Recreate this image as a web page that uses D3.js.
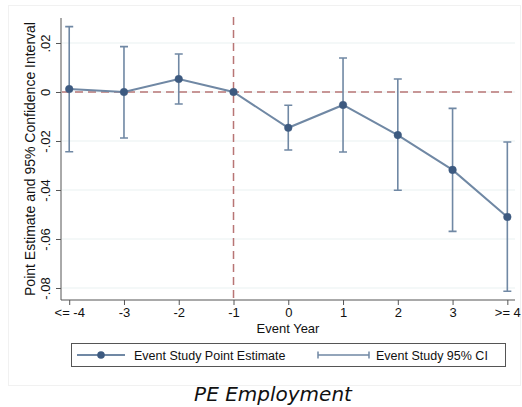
<!DOCTYPE html>
<html>
<head>
<meta charset="utf-8">
<script src="https://cdn.jsdelivr.net/npm/d3@7"></script>
<style>
  html, body { margin: 0; padding: 0; background: #fff; }
  svg { display: block; }
  text { font-family: "Liberation Sans", Arial, sans-serif; fill: #111; }
</style>
</head>
<body>
<svg id="chart" width="522" height="407"></svg>
<script>
// Event-study estimates relative to the event year (-1 is the omitted base year)
const eventYears = [-4, -3, -2, -1, 0, 1, 2, 3, 4];
const yearLabels = ["<= -4", "-3", "-2", "-1", "0", "1", "2", "3", ">= 4"];
const pointEstimates = [0.0012, 0.0, 0.0053, 0.0, -0.0146, -0.0053, -0.0176, -0.0318, -0.0510];
const ciLower = [-0.0244, -0.0188, -0.0049, null, -0.0237, -0.0245, -0.0401, -0.0569, -0.0813];
const ciUpper = [0.0267, 0.0185, 0.0155, null, -0.0054, 0.0139, 0.0053, -0.0067, -0.0204];
const yTicks = [0.02, 0, -0.02, -0.04, -0.06, -0.08];
const yTickLabels = [".02", "0", "-.02", "-.04", "-.06", "-.08"];

const svg = d3.select("#chart");
const lineColor = "#7088a4";
const markColor = "#3d5a80";
const refColor = "#b87575";

// faint outer frame of the graph region
svg.append("rect").attr("x", 8.5).attr("y", 5.5).attr("width", 512).attr("height", 380)
  .attr("fill", "none").attr("stroke", "#f1f1f1");

const x = d3.scaleLinear().domain([-4.15, 4.14]).range([61, 515]);
const y = d3.scaleLinear().domain([-0.0849, 0.0302]).range([300, 18]);

// gridlines
svg.append("g").selectAll("line").data(yTicks).join("line")
  .attr("x1", 62).attr("x2", 515)
  .attr("y1", d => y(d)).attr("y2", d => y(d))
  .attr("stroke", "#eaf2f2").attr("stroke-width", 1.2);

// axes
const yAxis = d3.axisLeft(y).tickValues(yTicks).tickSize(5)
  .tickFormat((d, i) => yTickLabels[i]);
const gy = svg.append("g").attr("transform", "translate(61,0)").call(yAxis);
gy.select(".domain").attr("d", "M0,18V300").attr("stroke", "#555");
gy.selectAll(".tick line").attr("stroke", "#555");
gy.selectAll(".tick text")
  .attr("transform", "rotate(-90)")
  .attr("x", 0).attr("y", -11).attr("dy", "0")
  .attr("text-anchor", "middle")
  .style("font-size", "13px");

const xAxis = d3.axisBottom(x).tickValues(eventYears).tickSize(5)
  .tickFormat((d, i) => yearLabels[i]);
const gx = svg.append("g").attr("transform", "translate(0,300)").call(xAxis);
gx.select(".domain").attr("d", "M61,0H515").attr("stroke", "#555");
gx.selectAll(".tick line").attr("stroke", "#555");
gx.selectAll(".tick text").attr("y", 8).style("font-size", "13px");

// axis titles
svg.append("text").attr("transform", "translate(35,159) rotate(-90)")
  .attr("text-anchor", "middle").style("font-size", "14px")
  .text("Point Estimate and 95% Confidence Interval");
svg.append("text").attr("x", 288).attr("y", 333).attr("text-anchor", "middle")
  .style("font-size", "13px").text("Event Year");

// reference lines at zero and at the base year
svg.append("line").attr("x1", 62).attr("x2", 515).attr("y1", y(0)).attr("y2", y(0))
  .attr("stroke", refColor).attr("stroke-width", 1.5).attr("stroke-dasharray", "8,5");
svg.append("line").attr("x1", x(-1)).attr("x2", x(-1)).attr("y1", 17).attr("y2", 300)
  .attr("stroke", refColor).attr("stroke-width", 1.5).attr("stroke-dasharray", "8,5");

// confidence intervals
const ci = eventYears.map((d, i) => ({ x: d, lo: ciLower[i], hi: ciUpper[i] }))
  .filter(d => d.lo !== null);
const ciG = svg.append("g").attr("stroke", lineColor).attr("stroke-width", 1.6).attr("fill", "none");
ciG.selectAll("path").data(ci).join("path")
  .attr("d", d => {
    const cx = x(d.x), y1 = y(d.hi), y2 = y(d.lo);
    return `M${cx},${y1}V${y2}M${cx - 4},${y1}H${cx + 4}M${cx - 4},${y2}H${cx + 4}`;
  });

// point estimate line and markers
const pts = eventYears.map((d, i) => ({ x: d, v: pointEstimates[i] }));
svg.append("path").datum(pts)
  .attr("d", d3.line().x(d => x(d.x)).y(d => y(d.v)))
  .attr("fill", "none").attr("stroke", lineColor).attr("stroke-width", 2);
svg.append("g").selectAll("circle").data(pts).join("circle")
  .attr("cx", d => x(d.x)).attr("cy", d => y(d.v)).attr("r", 3.8)
  .attr("fill", markColor).attr("stroke", markColor).attr("stroke-opacity", 0.5);

// legend
const lg = svg.append("g");
lg.append("rect").attr("x", 71.5).attr("y", 343.5).attr("width", 434).attr("height", 23)
  .attr("fill", "#fff").attr("stroke", "#555").attr("stroke-width", 1);
lg.append("line").attr("x1", 77).attr("x2", 125).attr("y1", 355).attr("y2", 355)
  .attr("stroke", lineColor).attr("stroke-width", 2);
lg.append("circle").attr("cx", 101).attr("cy", 355).attr("r", 3.8).attr("fill", markColor);
lg.append("text").attr("x", 134).attr("y", 359.5).style("font-size", "12.5px")
  .text("Event Study Point Estimate");
lg.append("path").attr("d", "M318,355H369M318,351.5V358.5M369,351.5V358.5")
  .attr("stroke", lineColor).attr("stroke-width", 1.5).attr("fill", "none");
lg.append("text").attr("x", 376).attr("y", 359.5).style("font-size", "12.5px")
  .text("Event Study 95% CI");

// caption
svg.append("text").attr("x", 273).attr("y", 401).attr("text-anchor", "middle")
  .style("font-size", "20px").style("font-style", "italic")
  .style("font-family", "'DejaVu Sans', sans-serif")
  .text("PE Employment");
</script>
</body>
</html>
